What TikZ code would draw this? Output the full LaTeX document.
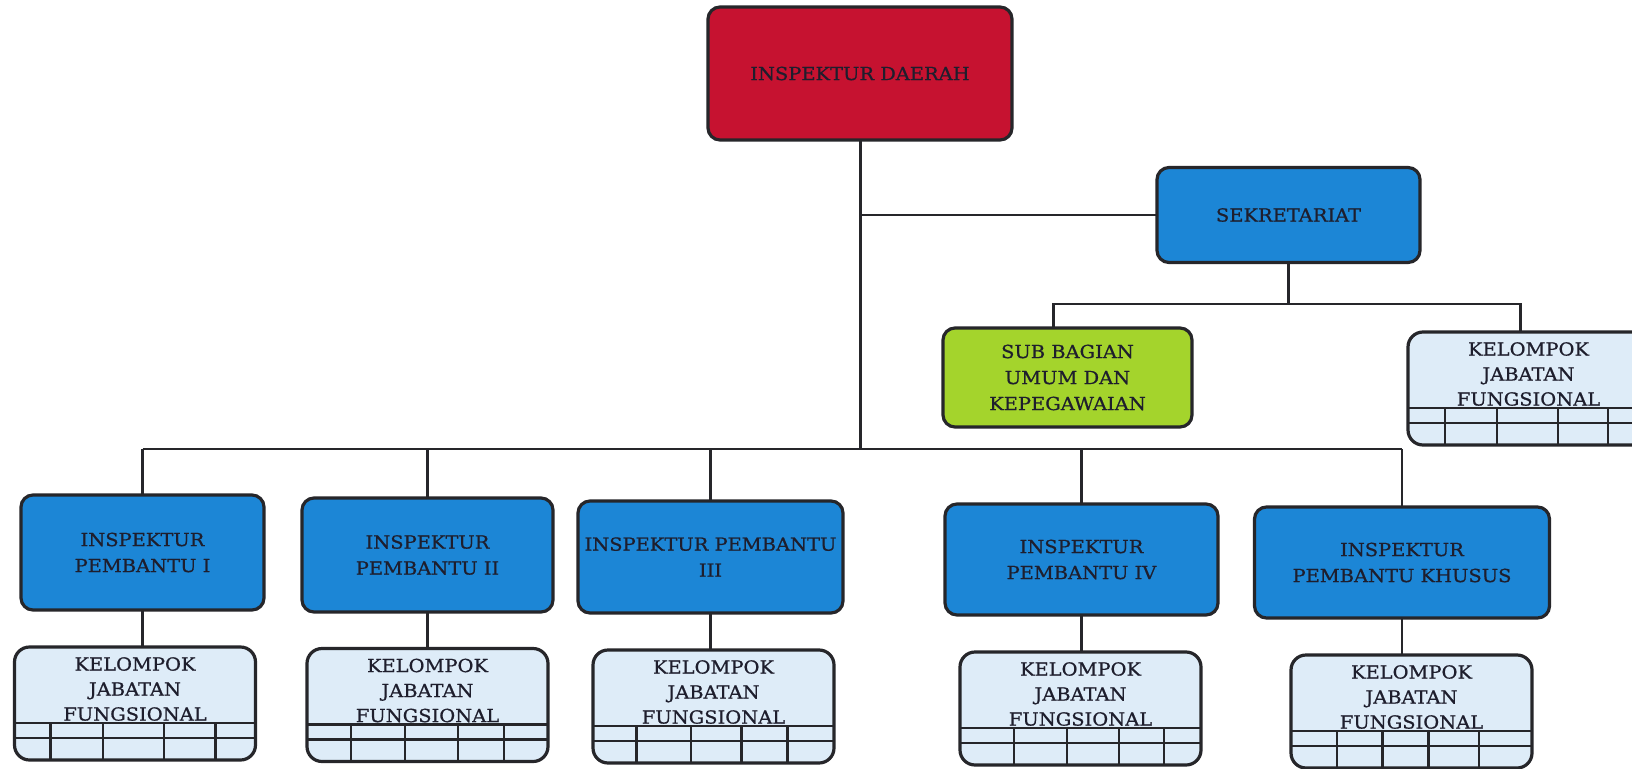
\documentclass[tikz,border=0pt]{standalone}
\usepackage{fontspec}
\setmainfont[FakeStretch=1.08,FakeBold=0.8]{DejaVu Serif}
\usetikzlibrary{calc}

\definecolor{daerahred}{RGB}{198,18,48}
\definecolor{boxblue}{RGB}{28,134,214}
\definecolor{subgreen}{RGB}{164,212,44}
\definecolor{kjfblue}{RGB}{222,236,248}
\definecolor{linegray}{RGB}{38,38,42}
\definecolor{txt}{RGB}{30,30,45}

\begin{document}
\begin{tikzpicture}[x=1pt,y=-1pt,
    box/.style={draw=linegray,line width=3.2pt,rounded corners=12pt,outer sep=0pt,inner sep=2pt,
        align=center,text=txt,font=\fontsize{18}{26}\selectfont},
    bluebox/.style={box,fill=boxblue},
    kjf/.style={box,fill=kjfblue,rounded corners=15pt,minimum width=241pt,minimum height=113pt,
        label={[kjftext]north:KELOMPOK\\JABATAN\\FUNGSIONAL}},
    kjftext/.style={anchor=north,inner sep=0pt,yshift=-10pt,align=center,text=txt,
        font=\fontsize{18}{25}\selectfont},
    conn/.style={draw=linegray,line width=2.2pt},
    grid/.style={draw=linegray,line width=2.6pt}]

    \useasboundingbox (0,0) rectangle (1632,768);
    \clip (0,0) rectangle (1632,768);
    \fill[white] (0,0) rectangle (1632,768);

    % top
    \node[box,fill=daerahred,minimum width=304pt,minimum height=133pt] (daerah) at (860,73.5) {INSPEKTUR DAERAH};
    \node[bluebox,minimum width=263pt,minimum height=95pt] (sekre) at (1288.5,215) {SEKRETARIAT};
    \node[box,fill=subgreen,minimum width=249pt,minimum height=99pt] (subbag) at (1067.5,377.5) {SUB BAGIAN\\UMUM DAN\\KEPEGAWAIAN};
    \node[kjf] (kjf0) at (1528.5,388.5) {};

    % inspektur pembantu
    \node[bluebox,minimum width=243pt,minimum height=115pt] (ip1) at (142.5,552.5) {INSPEKTUR\\PEMBANTU I};
    \node[bluebox,minimum width=251pt,minimum height=114pt] (ip2) at (427.5,555) {INSPEKTUR\\PEMBANTU II};
    \node[bluebox,minimum width=265pt,minimum height=112pt] (ip3) at (710.5,557) {INSPEKTUR PEMBANTU\\III};
    \node[bluebox,minimum width=273pt,minimum height=111pt] (ip4) at (1081.5,559.5) {INSPEKTUR\\PEMBANTU IV};
    \node[bluebox,minimum width=295pt,minimum height=111pt] (ip5) at (1402,562.5) {INSPEKTUR\\PEMBANTU KHUSUS};

    \node[kjf] (kjf1) at (135,703.5) {};
    \node[kjf] (kjf2) at (427.5,705) {};
    \node[kjf] (kjf3) at (713.5,706.5) {};
    \node[kjf] (kjf4) at (1080.5,708.5) {};
    \node[kjf] (kjf5) at (1411.5,711.5) {};

    % tables
    \foreach \k/\fr in {kjf0/{.154,.369,.622,.83},kjf1/{.149,.368,.62,.835},kjf2/{.183,.407,.627,.817},
        kjf3/{.181,.407,.617,.807},kjf4/{.224,.444,.66,.846},kjf5/{.19,.38,.57,.78}} {
        \draw[grid] ($(\k.north west)+(0,76)$) -- ($(\k.north east)+(0,76)$);
        \draw[grid] ($(\k.north west)+(0,91)$) -- ($(\k.north east)+(0,91)$);
        \foreach \f in \fr
            \draw[grid] ($(\k.north west)!\f!(\k.north east)+(0,76)$) -- ($(\k.south west)!\f!(\k.south east)$);
    }

    % connectors
    \coordinate (bus) at (860,449);
    \coordinate (sbus) at (1288.5,304);
    \draw[conn,line width=3pt] (daerah.south) -- (daerah.south |- bus);
    \draw[conn] (daerah.south |- sekre.west) -- (sekre.west);
    \draw[conn] (sekre.south) -- (sbus);
    \draw[conn] ([xshift=-14pt]subbag.north) |- (sbus) -| ([xshift=-8pt]kjf0.north);
    \draw[conn] (ip1.north |- bus) -- (ip5.north |- bus);
    \foreach \i in {1,...,5} {
        \draw[conn] (ip\i.north) -- (ip\i.north |- bus);
        \draw[conn] (ip\i.south) -- (ip\i.south |- kjf\i.north);
    }
\end{tikzpicture}
\end{document}
